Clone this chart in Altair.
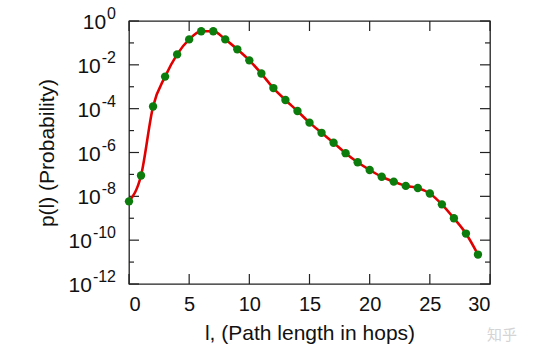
import altair as alt
import pandas as pd

# data
hops = list(range(30))
prob = [5.9e-9, 8.9e-8, 1.26e-4, 2.9e-3, 3.0e-2, 1.45e-1, 3.4e-1, 3.4e-1, 1.45e-1, 5.1e-2,
        1.6e-2, 4.0e-3, 8.7e-4, 2.5e-4, 7.8e-5, 2.3e-5, 7.9e-6, 2.8e-6, 9.3e-7, 3.6e-7,
        1.6e-7, 7.8e-8, 4.7e-8, 3.0e-8, 2.4e-8, 1.35e-8, 4.3e-9, 1.0e-9, 2.0e-10, 2.2e-11]

x_ticks = [0, 5, 10, 15, 20, 25, 30]
y_major = [1e0, 1e-2, 1e-4, 1e-6, 1e-8, 1e-10, 1e-12]
y_exps = ["0", "-2", "-4", "-6", "-8", "-10", "-12"]
y_minor = [1e-1, 1e-3, 1e-5, 1e-7, 1e-9, 1e-11]

W, H = 361, 263
FONT = "Liberation Sans"

df = pd.DataFrame({"l": hops, "p": prob})
xt = pd.DataFrame({"x": x_ticks})
ymaj = pd.DataFrame({"y": y_major, "base": ["10"] * len(y_major), "exp": y_exps})
ymin = pd.DataFrame({"y": y_minor})

xscale = alt.Scale(domain=[0, 30], nice=False, zero=False)
yscale = alt.Scale(type="log", domain=[1e-12, 1], nice=False)

xaxis = alt.Axis(values=x_ticks, ticks=False, domain=False, grid=False,
                 labelFontSize=20, labelFont=FONT, labelColor="#111", labelPadding=10,
                 title="l, (Path length in hops)", titleFont=FONT, titleFontSize=21,
                 titleFontWeight="normal", titleColor="#111", titlePadding=8)
yaxis = alt.Axis(values=y_major, ticks=False, domain=False, grid=False, labels=False,
                 title="p(l) (Probability)", titleFont=FONT, titleFontSize=21,
                 titleFontWeight="normal", titleColor="#111", titlePadding=72)

line = alt.Chart(df).mark_line(color="#e00000", strokeWidth=2.6, interpolate="monotone").encode(
    x=alt.X("l:Q", scale=xscale, axis=xaxis),
    y=alt.Y("p:Q", scale=yscale, axis=yaxis),
)
points = alt.Chart(df).mark_circle(color="#0c7c0c", opacity=1, size=70).encode(
    x=alt.X("l:Q", scale=xscale),
    y=alt.Y("p:Q", scale=yscale),
)

tick_color = "#222"
bottom = alt.Chart(xt).mark_rule(color=tick_color, strokeWidth=1.2).encode(
    x=alt.X("x:Q", scale=xscale), y=alt.value(H), y2=alt.value(H - 10))
top = alt.Chart(xt).mark_rule(color=tick_color, strokeWidth=1.2).encode(
    x=alt.X("x:Q", scale=xscale), y=alt.value(0), y2=alt.value(10))
left_maj = alt.Chart(ymaj).mark_rule(color=tick_color, strokeWidth=1.2).encode(
    y=alt.Y("y:Q", scale=yscale), x=alt.value(0), x2=alt.value(10))
right_maj = alt.Chart(ymaj).mark_rule(color=tick_color, strokeWidth=1.2).encode(
    y=alt.Y("y:Q", scale=yscale), x=alt.value(W), x2=alt.value(W - 10))
left_min = alt.Chart(ymin).mark_rule(color=tick_color, strokeWidth=1.2).encode(
    y=alt.Y("y:Q", scale=yscale), x=alt.value(0), x2=alt.value(5))
right_min = alt.Chart(ymin).mark_rule(color=tick_color, strokeWidth=1.2).encode(
    y=alt.Y("y:Q", scale=yscale), x=alt.value(W), x2=alt.value(W - 5))

# y tick labels: "10" with superscript exponent
EXP_SIZE = 16
exp_labels = alt.Chart(ymaj).mark_text(
    font=FONT, fontSize=EXP_SIZE, color="#111", align="right", baseline="middle", dy=-7
).encode(y=alt.Y("y:Q", scale=yscale), x=alt.value(-13), text="exp:N")
base_labels = alt.Chart(ymaj).transform_calculate(
    bx=f"-14 - {0.556 * EXP_SIZE} * length(replace(datum.exp, '-', '')) - "
       f"(indexof(datum.exp, '-') >= 0 ? {0.333 * EXP_SIZE} : 0)"
).mark_text(
    font=FONT, fontSize=21, color="#111", align="right", baseline="middle", dy=2
).encode(y=alt.Y("y:Q", scale=yscale), x=alt.X("bx:Q", scale=None), text="base:N")

watermark = alt.Chart(pd.DataFrame({"t": ["知乎"]})).mark_text(
    font="Noto Sans CJK SC", fontSize=15, color="#d4d4d4", align="left", baseline="middle"
).encode(text="t:N", x=alt.value(W - 3), y=alt.value(H + 51))

chart = alt.layer(bottom, top, left_maj, right_maj, left_min, right_min, line, points,
                  exp_labels, base_labels, watermark).properties(
    width=W, height=H,
    autosize=alt.AutoSizeParams(type="none"),
    padding={"left": 129, "top": 21, "right": 64, "bottom": 70},
    background="white",
).configure_view(stroke="#222", strokeWidth=1.3)

chart.save("out.html", embed_options={"renderer": "svg", "actions": False})
